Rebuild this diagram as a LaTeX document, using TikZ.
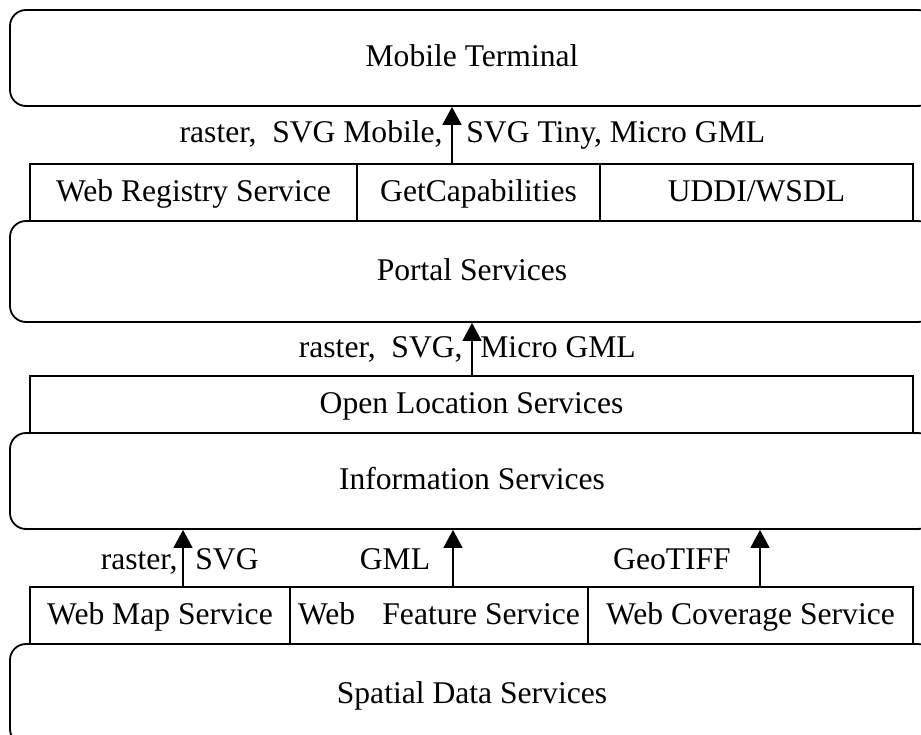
\documentclass[tikz,border=0pt]{standalone}
\usepackage{fontspec}
\setmainfont{Liberation Serif}
\usetikzlibrary{arrows.meta}
\tikzset{
  layerbox/.style={draw, line width=0.9pt, rounded corners=8pt, inner sep=0pt,
    minimum width=462pt, text height=1.1em, text depth=0.23em},
  cellbox/.style={draw, line width=0.9pt, inner sep=0pt, minimum height=28.5pt,
    text height=1.1em, text depth=0.23em},
  fmt/.style={inner sep=0pt},
  uparrow/.style={line width=0.8pt, -{Triangle[width=9.5pt,length=9pt]}}
}
\begin{document}
\begin{tikzpicture}[x=0.5pt,y=-0.5pt,
  every node/.style={font=\fontsize{15.8}{18}\selectfont}]
\useasboundingbox (0,0) rectangle (921,734);
\clip (0,0) rectangle (921,734);
\fill[white] (0,0) rectangle (921,734);

% layers
\node[layerbox, minimum height=48pt]   (mobile)  at (472,58)    {Mobile Terminal};
\node[layerbox, minimum height=50.5pt] (portal)  at (472,271.5) {Portal Services};
\node[layerbox, minimum height=48pt]   (info)    at (472,481)   {Information Services};
\node[layerbox, minimum height=50.5pt] (spatial) at (472,694.5) {Spatial Data Services};

% registry row
\node[cellbox, minimum width=163.5pt] (reg)  at (193.5,192.5) {Web Registry Service};
\node[cellbox, minimum width=121.5pt] (caps) at (478.5,192.5) {GetCapabilities};
\node[cellbox, minimum width=156.5pt] (uddi) at (756.5,192.5) {UDDI/WSDL};

% open location row
\node[cellbox, minimum width=441.5pt] (ols) at (471.5,404.5) {Open Location Services};

% data service row
\node[cellbox, minimum width=130pt]   (wms) at (160,615.5) {Web Map Service};
\node[cellbox, minimum width=149pt]   (wfs) at (439,615.5) {Web\hspace*{0.86em}Feature Service};
\node[cellbox, minimum width=162.5pt] (wcs) at (750.5,615.5) {Web Coverage Service};

% arrow feet
\coordinate (f1) at (caps.north -| 452,0);
\coordinate (f2) at (ols.north -| 472,0);
\coordinate (f3) at (wms.north -| 183,0);
\coordinate (f4) at (wfs.north -| 453,0);
\coordinate (f5) at (wcs.north -| 760,0);

\draw[uparrow] (f1) -- (f1 |- mobile.south);
\draw[uparrow] (f2) -- (f2 |- portal.south);
\draw[uparrow] (f3) -- (f3 |- info.south);
\draw[uparrow] (f4) -- (f4 |- info.south);
\draw[uparrow] (f5) -- (f5 |- info.south);

% formats
\node[fmt, anchor=base east] (l1a) at (443,142) {raster,\ \ SVG Mobile,};
\node[fmt, anchor=base west] (l1b) at (466,142) {SVG Tiny, Micro GML};
\node[fmt, anchor=base east] (l2a) at (463,357) {raster,\ \ SVG,};
\node[fmt, anchor=base west] (l2b) at (480,357) {Micro GML};
\node[fmt, anchor=base east] (l3a) at (178,569) {raster,};
\node[fmt, anchor=base west] (l3b) at (195,569) {SVG};
\node[fmt, anchor=base] (l4) at (395,569) {GML};
\node[fmt, anchor=base] (l5) at (672,569) {GeoTIFF};
\end{tikzpicture}
\end{document}
